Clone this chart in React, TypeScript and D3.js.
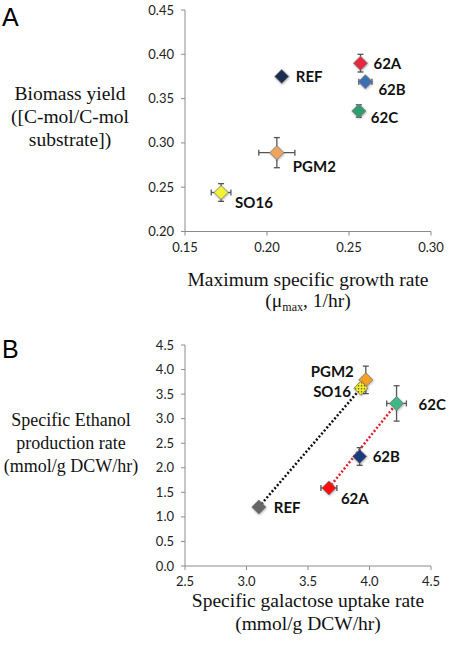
import React from "react";
import * as d3 from "d3";

// ---- Data ----
const strains = ["REF", "62A", "62B", "62C", "PGM2", "SO16"];

// Panel A
const muMax = [0.209, 0.257, 0.26, 0.256, 0.206, 0.172];
const muMaxErr = [0.002, 0.002, 0.004, 0.002, 0.011, 0.006];
const biomassYield = [0.375, 0.39, 0.369, 0.336, 0.289, 0.244];
const biomassYieldErr = [0.002, 0.01, 0.002, 0.007, 0.017, 0.01];
const colorsA = ["#1c2d4f", "#e8283c", "#3d6eb4", "#2e9e6e", "#f0a35a", "#f2f230"];
const xTicksA = [0.15, 0.2, 0.25, 0.3];
const yTicksA = [0.2, 0.25, 0.3, 0.35, 0.4, 0.45];

// Panel B
const galUptake = [3.1, 3.67, 3.92, 4.22, 3.97, 3.93];
const galUptakeErr = [0.03, 0.065, 0.03, 0.08, 0.03, 0.03];
const ethanolRate = [1.2, 1.59, 2.23, 3.31, 3.79, 3.62];
const ethanolRateErr = [0.03, 0.04, 0.18, 0.36, 0.28, 0.08];
const colorsB = ["#666666", "#ff1010", "#1f3a7a", "#3cb884", "#f4a024", "#f6f020"];
const xTicksB = [2.5, 3.0, 3.5, 4.0, 4.5];
const yTicksB = [0, 0.5, 1, 1.5, 2, 2.5, 3, 3.5, 4, 4.5];
const blackLine = ["REF", "SO16"];
const redLine = ["62A", "62C"];

// ---- Layout (label offsets relative to points) ----
const labelOffA: Record<string, [number, number, string]> = {
  REF: [14, 0, "start"],
  "62A": [13, 0, "start"],
  "62B": [13, 8, "start"],
  "62C": [12, 6, "start"],
  PGM2: [16, 14, "start"],
  SO16: [14, 10, "start"],
};
const labelOffB: Record<string, [number, number, string]> = {
  REF: [15, 0, "start"],
  "62A": [12, 11, "start"],
  "62B": [13, 0, "start"],
  "62C": [22, 1, "start"],
  PGM2: [-12, -8, "end"],
  SO16: [-10, 3, "end"],
};

const tickFont = "Lato, 'Open Sans', sans-serif";
const serif = "'Liberation Serif', 'DejaVu Serif', serif";
const axisColor = "#8c8c8c";

type PanelProps = {
  x: d3.ScaleLinear<number, number>;
  y: d3.ScaleLinear<number, number>;
  xTicks: number[];
  yTicks: number[];
  xFmt: (v: number) => string;
  yFmt: (v: number) => string;
  xs: number[];
  xe: number[];
  ys: number[];
  ye: number[];
  colors: string[];
  offs: Record<string, [number, number, string]>;
  lines?: { ends: string[]; color: string }[];
  patternIdx?: number;
};

function Panel(p: PanelProps) {
  const [x0, x1] = p.x.range();
  const [y0, y1] = p.y.range();
  const diamond = d3.symbol().type(d3.symbolDiamond2).size(125);
  return (
    <g>
      {/* axes */}
      <line x1={x0} x2={x1} y1={y0} y2={y0} stroke={axisColor} strokeWidth={1} />
      <line x1={x0} x2={x0} y1={y0} y2={y1} stroke={axisColor} strokeWidth={1} />
      {p.xTicks.map((t) => (
        <g key={"xt" + t}>
          <line x1={p.x(t)} x2={p.x(t)} y1={y0} y2={y0 + 4} stroke={axisColor} />
          <text x={p.x(t)} y={y0 + 20} textAnchor="middle" fontFamily={tickFont} fontSize={13} fill="#222">
            {p.xFmt(t)}
          </text>
        </g>
      ))}
      {p.yTicks.map((t) => (
        <g key={"yt" + t}>
          <line x1={x0 - 4} x2={x0} y1={p.y(t)} y2={p.y(t)} stroke={axisColor} />
          <text x={x0 - 11} y={p.y(t) + 4.5} textAnchor="end" fontFamily={tickFont} fontSize={13} fill="#222">
            {p.yFmt(t)}
          </text>
        </g>
      ))}
      {/* dotted lines */}
      {(p.lines || []).map((l, i) => {
        const a = strains.indexOf(l.ends[0]);
        const b = strains.indexOf(l.ends[1]);
        return (
          <line
            key={"l" + i}
            x1={p.x(p.xs[a])}
            y1={p.y(p.ys[a])}
            x2={p.x(p.xs[b])}
            y2={p.y(p.ys[b])}
            stroke={l.color}
            strokeWidth={2.5}
            strokeDasharray="2,2"
          />
        );
      })}
      {/* error bars + markers */}
      {strains.map((s, i) => {
        const cx = p.x(p.xs[i]);
        const cy = p.y(p.ys[i]);
        const xl = p.x(p.xs[i] - p.xe[i]);
        const xr = p.x(p.xs[i] + p.xe[i]);
        const yt = p.y(p.ys[i] + p.ye[i]);
        const yb = p.y(p.ys[i] - p.ye[i]);
        const cap = 3;
        const ec = "#555";
        return (
          <g key={s}>
            <line x1={xl} x2={xr} y1={cy} y2={cy} stroke={ec} strokeWidth={1.3} />
            <line x1={xl} x2={xl} y1={cy - cap} y2={cy + cap} stroke={ec} strokeWidth={1.3} />
            <line x1={xr} x2={xr} y1={cy - cap} y2={cy + cap} stroke={ec} strokeWidth={1.3} />
            <line x1={cx} x2={cx} y1={yt} y2={yb} stroke={ec} strokeWidth={1.3} />
            <line x1={cx - cap} x2={cx + cap} y1={yt} y2={yt} stroke={ec} strokeWidth={1.3} />
            <line x1={cx - cap} x2={cx + cap} y1={yb} y2={yb} stroke={ec} strokeWidth={1.3} />
            <path
              d={diamond() as string}
              transform={`translate(${cx},${cy})`}
              fill={p.patternIdx === i ? "url(#dotsYellow)" : p.colors[i]}
              stroke="#7a7a7a"
              strokeWidth={0.8}
              filter="url(#glow)"
            />
            <text
              x={cx + p.offs[s][0]}
              y={cy + p.offs[s][1] + 5.5}
              textAnchor={p.offs[s][2] as any}
              fontFamily={tickFont}
              fontWeight="bold"
              fontSize={15}
              fill="#111"
            >
              {s}
            </text>
          </g>
        );
      })}
    </g>
  );
}

export default function App() {
  const xA = d3.scaleLinear().domain([0.15, 0.3]).range([185, 431]);
  const yA = d3.scaleLinear().domain([0.2, 0.45]).range([231.5, 10]);
  const xB = d3.scaleLinear().domain([2.5, 4.5]).range([185, 431]);
  const yB = d3.scaleLinear().domain([0, 4.5]).range([566, 345]);
  const f2 = d3.format(".2f");
  const f1 = d3.format(".1f");
  return (
    <svg
      width={450}
      height={647}
      style={{ position: "absolute", left: 0, top: 0, background: "#fff" }}
    >
      <defs>
        <filter id="glow" x="-50%" y="-50%" width="200%" height="200%">
          <feDropShadow dx="0.5" dy="0.8" stdDeviation="1" floodColor="#000" floodOpacity="0.35" />
        </filter>
        <pattern id="dotsYellow" width="3" height="3" patternUnits="userSpaceOnUse">
          <rect width="3" height="3" fill="#f6f020" />
          <rect width="1.2" height="1.2" fill="#333" />
        </pattern>
      </defs>
      <rect width={450} height={647} fill="#fff" />

      {/* Panel letters */}
      <text x={2} y={26} fontFamily="'Liberation Sans', Arial, sans-serif" fontSize={25}>A</text>
      <text x={2} y={358} fontFamily="'Liberation Sans', Arial, sans-serif" fontSize={25}>B</text>

      {/* Panel A */}
      <Panel
        x={xA}
        y={yA}
        xTicks={xTicksA}
        yTicks={yTicksA}
        xFmt={f2}
        yFmt={f2}
        xs={muMax}
        xe={muMaxErr}
        ys={biomassYield}
        ye={biomassYieldErr}
        colors={colorsA}
        offs={labelOffA}
      />
      <g fontFamily={serif} fontSize={19.5} textAnchor="middle" fill="#111">
        <text x={70} y={100}>Biomass yield</text>
        <text x={70} y={123}>([C-mol/C-mol</text>
        <text x={70} y={146}>substrate])</text>
        <text x={308} y={286}>Maximum specific growth rate</text>
        <text x={308} y={307}>
          (μ<tspan fontSize={12} dy={4}>max</tspan>
          <tspan dy={-4}>, 1/hr)</tspan>
        </text>
      </g>

      {/* Panel B */}
      <Panel
        x={xB}
        y={yB}
        xTicks={xTicksB}
        yTicks={yTicksB}
        xFmt={f1}
        yFmt={f1}
        xs={galUptake}
        xe={galUptakeErr}
        ys={ethanolRate}
        ye={ethanolRateErr}
        colors={colorsB}
        offs={labelOffB}
        patternIdx={5}
        lines={[
          { ends: blackLine, color: "#111" },
          { ends: redLine, color: "#e0202a" },
        ]}
      />
      <g fontFamily={serif} fontSize={18} textAnchor="middle" fill="#111">
        <text x={71} y={426}>Specific Ethanol</text>
        <text x={71} y={449}>production rate</text>
        <text x={71} y={472}>(mmol/g DCW/hr)</text>
      </g>
      <g fontFamily={serif} fontSize={19.5} textAnchor="middle" fill="#111">
        <text x={308} y={607}>Specific galactose uptake rate</text>
        <text x={308} y={630}>(mmol/g DCW/hr)</text>
      </g>
    </svg>
  );
}
